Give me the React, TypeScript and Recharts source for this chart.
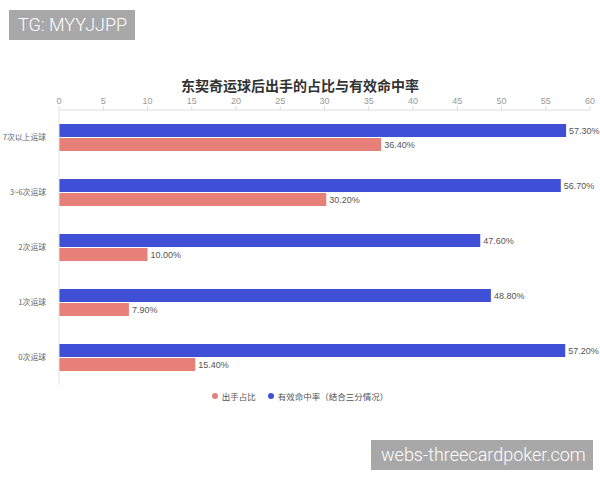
import React from "react";
import { BarChart, Bar, XAxis, YAxis, LabelList } from "recharts";

const categories = ["7次以上运球", "3~6次运球", "2次运球", "1次运球", "0次运球"];
const shotShare = [36.4, 30.2, 10.0, 7.9, 15.4];
const effectiveFg = [57.3, 56.7, 47.6, 48.8, 57.2];
const xTicks = [0, 5, 10, 15, 20, 25, 30, 35, 40, 45, 50, 55, 60];

const seriesNames = { share: "出手占比", efg: "有效命中率（结合三分情况）" };
const RED = "#E8807A";
const BLUE = "#3F4FD6";
const FONT = "'Noto Sans CJK SC', 'Noto Sans', sans-serif";
const NUMFONT = "'Liberation Sans', Arial, sans-serif";

const data = categories.map((c, i) => ({ name: c, share: shotShare[i], efg: effectiveFg[i] }));

const fmt = (v: any) => `${Number(v).toFixed(2)}%`;

export default function App() {
  return (
    <div style={{ position: "absolute", left: 0, top: 0, width: 600, height: 480, background: "#fff", fontFamily: FONT }}>
      <div style={{ position: "absolute", left: 9, top: 10, width: 126, height: 30, background: "#a8a8a8", color: "#fff", fontSize: 18, fontWeight: 300, lineHeight: "30px", paddingLeft: 9, boxSizing: "border-box", fontFamily: "Roboto, sans-serif", whiteSpace: "nowrap" }}>
        TG: MYYJJPP
      </div>
      <div style={{ position: "absolute", left: 0, top: 75, width: 600, textAlign: "center", fontSize: 14, fontWeight: "bold", color: "#333" }}>
        东契奇运球后出手的占比与有效命中率
      </div>
      <BarChart
        width={600}
        height={480}
        data={data}
        layout="vertical"
        margin={{ top: 90, right: 10, bottom: 95, left: 0 }}
        barSize={13}
        barGap={1}
        barCategoryGap={0}
      >
        <XAxis
          type="number"
          orientation="top"
          domain={[0, 60]}
          ticks={xTicks}
          height={20}
          axisLine={{ stroke: "#ddd" }}
          tickLine={{ stroke: "#ddd" }}
          tickSize={4}
          tick={{ fontSize: 9, fill: "#999", fontFamily: NUMFONT }}
          interval={0}
        />
        <YAxis
          type="category"
          dataKey="name"
          width={59}
          axisLine={{ stroke: "#e3e3e3" }}
          tickLine={false}
          tickMargin={7}
          tick={{ fontSize: 7.8, fill: "#666", fontFamily: FONT }}
        />
        <Bar dataKey="efg" name={seriesNames.efg} fill={BLUE} isAnimationActive={false}>
          <LabelList dataKey="efg" position="right" offset={3} formatter={fmt} style={{ fontSize: 9, fill: "#555", fontFamily: NUMFONT }} />
        </Bar>
        <Bar dataKey="share" name={seriesNames.share} fill={RED} isAnimationActive={false}>
          <LabelList dataKey="share" position="right" offset={3} formatter={fmt} style={{ fontSize: 9, fill: "#555", fontFamily: NUMFONT }} />
        </Bar>
      </BarChart>
      <div style={{ position: "absolute", left: 0, top: 390, width: 600, display: "flex", justifyContent: "center", alignItems: "center", fontSize: 8.5, color: "#555", fontFamily: FONT }}>
        {[
          { c: RED, t: seriesNames.share },
          { c: BLUE, t: seriesNames.efg },
        ].map((it, i) => (
          <div key={i} style={{ display: "flex", alignItems: "center", marginLeft: i ? 12 : 0 }}>
            <span style={{ width: 6, height: 6, borderRadius: 3, background: it.c, display: "inline-block", marginRight: 4 }} />
            <span>{it.t}</span>
          </div>
        ))}
      </div>
      <div style={{ position: "absolute", left: 371, top: 440, width: 222, height: 30, background: "#a8a8a8", color: "#fff", fontSize: 18, fontWeight: 300, lineHeight: "30px", paddingLeft: 10, boxSizing: "border-box", fontFamily: "Roboto, sans-serif", whiteSpace: "nowrap", overflow: "hidden" }}>
        webs-threecardpoker.com
      </div>
    </div>
  );
}
